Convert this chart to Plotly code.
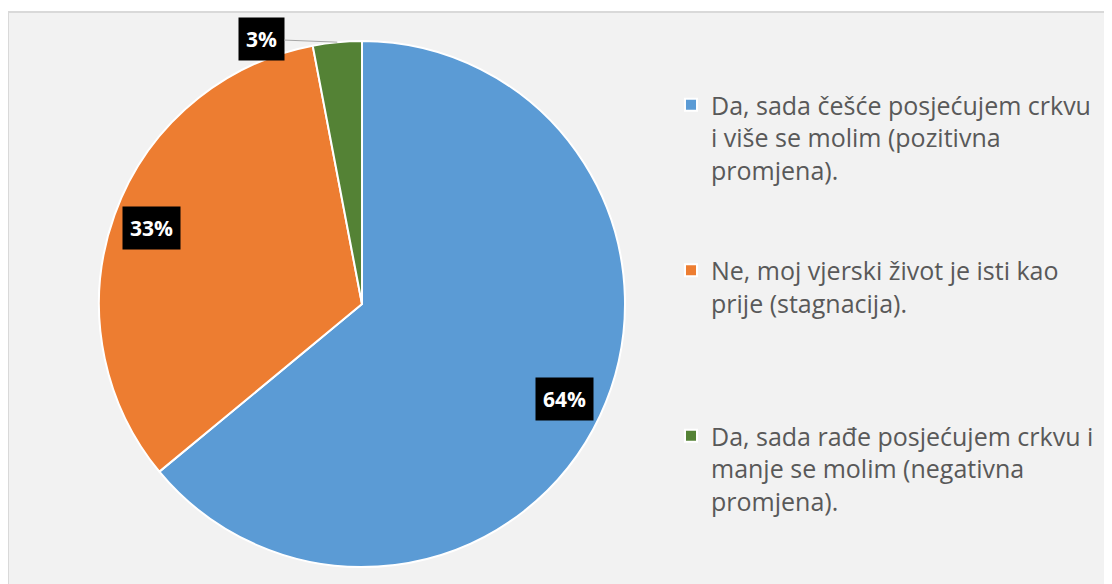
import math
import plotly.graph_objects as go

# ---- data ----
categories = [
    "Da, sada češće posjećujem crkvu i više se molim (pozitivna promjena).",
    "Ne, moj vjerski život je isti kao prije (stagnacija).",
    "Da, sada rađe posjećujem crkvu i manje se molim (negativna promjena).",
]
legend_labels = [
    "Da, sada češće posjećujem crkvu<br>i više se molim (pozitivna<br>promjena).",
    "Ne, moj vjerski život je isti kao<br>prije (stagnacija).",
    "Da, sada rađe posjećujem crkvu i<br>manje se molim (negativna<br>promjena).",
]
values = [64, 33, 3]
colors = ["#5B9BD5", "#ED7D31", "#548235"]

W, H = 1112, 584
# pie geometry (figure pixels; page body adds an 8px offset)
cx, cy, R = 354, 296, 263
pad_lines = [2, 3, 0]

names = [lab + "<br>&nbsp;" * n for lab, n in zip(legend_labels, pad_lines)]

fig = go.Figure()
fig.add_trace(go.Pie(
    labels=names,
    values=values,
    sort=False,
    direction="clockwise",
    rotation=0,
    marker=dict(colors=colors, line=dict(color="white", width=2)),
    textinfo="none",
    hoverinfo="percent",
    domain=dict(x=[(cx - R) / W, (cx + R) / W], y=[1 - (cy + R) / H, 1 - (cy - R) / H]),
    showlegend=True,
))

# percentage labels computed from data
total = sum(values)
cum = 0
annotations = []
lab_font = dict(color="white", size=21, family="Open Sans")
for i, v in enumerate(values):
    mid = (cum + v / 2) / total * 2 * math.pi
    cum += v
    pct = f"<b>{round(v / total * 100)}%</b>"
    if v / total > 0.05:
        r = 0.85 * R
        px = cx + r * math.sin(mid)
        py = cy - r * math.cos(mid)
        annotations.append(dict(
            x=px / W, y=1 - py / H, xref="paper", yref="paper",
            xanchor="center", yanchor="middle",
            text=pct, showarrow=False, bgcolor="black", borderpad=7,
            font=lab_font,
        ))
    else:
        r = 1.0 * R
        px = cx + r * math.sin(mid)
        py = cy - r * math.cos(mid)
        annotations.append(dict(
            x=px / W, y=1 - py / H, xref="paper", yref="paper",
            xanchor="center", yanchor="middle",
            text=pct, showarrow=True, arrowhead=0, arrowwidth=1, arrowcolor="#A6A6A6",
            ax=-76, ay=-3, bgcolor="black", borderpad=7,
            font=lab_font,
        ))

fig.update_layout(
    width=W, height=H,
    margin=dict(l=0, r=0, t=0, b=0),
    paper_bgcolor="white",
    shapes=[dict(type="rect", xref="paper", yref="paper",
                 x0=0, x1=1.02, y0=-0.02, y1=1 - 4 / H,
                 fillcolor="#F2F2F2", line=dict(color="#D9D9D9", width=2), layer="below")],
    annotations=annotations,
    legend=dict(
        x=663 / W, y=1 - 74 / H, xanchor="left", yanchor="top",
        font=dict(family="Open Sans", size=25, color="#595959"),
        bgcolor="rgba(0,0,0,0)", valign="top", itemclick=False,
    ),
)

fig.write_html("out.html")
